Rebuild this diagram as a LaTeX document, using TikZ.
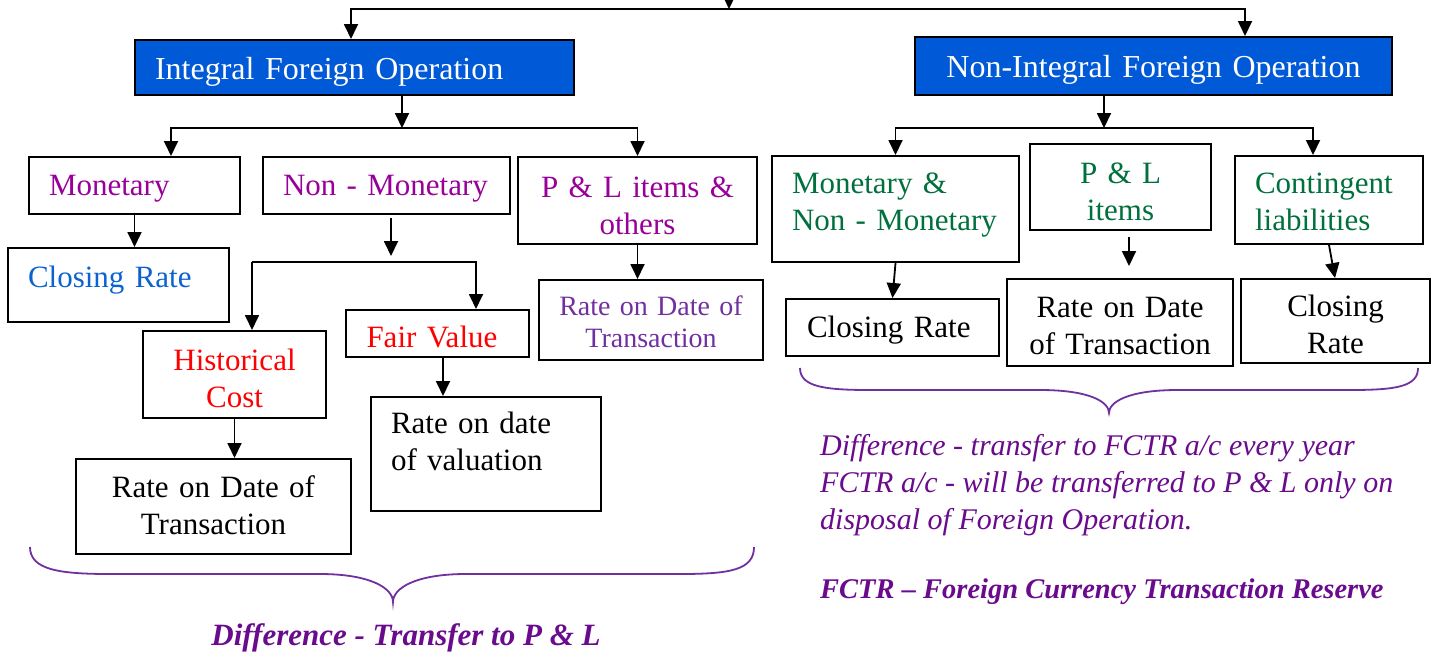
\documentclass[tikz,border=0pt]{standalone}
\usepackage{fontspec}
\setmainfont{Liberation Serif}
\usetikzlibrary{calc,positioning,arrows.meta}

\definecolor{opblue}{HTML}{0059D6}
\definecolor{monpurple}{HTML}{990099}
\definecolor{ratepurple}{HTML}{7030A0}
\definecolor{notepurple}{HTML}{6A0A8C}
\definecolor{closeblue}{HTML}{0B63D0}
\definecolor{fairred}{HTML}{FF0000}
\definecolor{nigreen}{HTML}{00703C}

\newcommand{\topfont}{\fontsize{32}{37}\selectfont}
\newcommand{\boxfont}{\fontsize{31}{37}\selectfont}
\newcommand{\smallboxfont}{\fontsize{28}{32}\selectfont}
\newcommand{\notefont}{\fontsize{30}{37}\selectfont\itshape}

\begin{document}
\begin{tikzpicture}[
  x=1pt, y=-1pt,
  box/.style={draw, rectangle, line width=2pt, inner ysep=0pt, font=\boxfont},
  lbox/.style={box, align=left, inner xsep=20pt, text width=#1},
  cbox/.style={box, align=center, inner xsep=4pt, text width=#1},
  arr/.style={line width=1.8pt, -{Triangle[length=15pt,width=14pt]}},
  brace/.style={draw=ratepurple, line width=1.8pt},
  ]
  \useasboundingbox (0,0) rectangle (1439,653);

  % top level
  \node (integral) [lbox=399pt, fill=opblue, text=white, font=\topfont, minimum height=55pt, text height=31.5pt, text depth=8.5pt] at (354.5,67.5) {Integral Foreign Operation};
  \node (nonintegral) [cbox=469pt, fill=opblue, text=white, font=\topfont, minimum height=58pt, text height=31pt, text depth=9pt] at (1153.5,66) {Non-Integral Foreign Operation};

  \coordinate (topin) at (729,0);
  \coordinate (split) at (729,9);
  \draw[arr] (topin) -- (split);
  \draw[arr] (split) -| ([xshift=-3.5pt]integral.north);
  \draw[arr] (split) -| ([xshift=91.5pt]nonintegral.north);

  % integral side
  \node (monetary) [lbox=171pt, text=monpurple, minimum height=57pt, text height=29.5pt, text depth=10.5pt] at (134.5,185.5) {Monetary};
  \node (nonmonetary) [lbox=207pt, text=monpurple, minimum height=57pt, text height=29.5pt, text depth=10.5pt] at (386.5,185.5) {Non - Monetary};
  \node (plothers) [cbox=231pt, text=monpurple, minimum height=87pt, text height=26.5pt, text depth=33.5pt] at (637.5,200.5) {P \& L items \&\\ others};

  \coordinate (lsplit) at (402,128);
  \draw[arr] ([xshift=47.5pt]integral.south) -- (lsplit);
  \draw[arr] (lsplit) -| ([xshift=36.5pt]monetary.north);
  \draw[arr] (lsplit) -| (plothers.north);

  \node (closingL) [lbox=181pt, text=closeblue, minimum height=74pt, text height=32pt, text depth=28pt] at (118.5,285) {Closing Rate};
  \draw[arr] (monetary.south) -- (monetary.south |- closingL.north);

  \coordinate (nm_top) at (391,218);
  \coordinate (nm_end) at (391,256);
  \draw[arr] (nm_top) -- (nm_end);
  \coordinate (hl_left) at (252,262);
  \coordinate (hl_right) at (476,262);

  \node (historical) [cbox=175pt, text=fairred, minimum height=87pt, text height=25.5pt, text depth=34.5pt] at (234.5,374.5) {Historical\\ Cost};
  \node (fairvalue) [lbox=141pt, inner xsep=21pt, text=fairred, minimum height=47pt, text height=33.5pt, text depth=6.5pt] at (437,333.5) {Fair Value};
  \draw[arr] (hl_left) -- (hl_left |- historical.north);
  \draw[arr] (hl_left) -- (hl_right) -- (hl_right |- fairvalue.north);

  \node (rateL) [cbox=267pt, minimum height=95pt, text height=20.5pt, text depth=39.5pt] at (213.5,506.5) {Rate on Date of\\ Transaction};
  \node (valuation) [lbox=190pt, minimum height=114pt, text height=9pt, text depth=51pt] at (486,454) {Rate on date\\ of valuation};
  \node (plrate) [cbox=216pt, text=ratepurple, font=\smallboxfont, minimum height=80pt, text height=25pt, text depth=35pt] at (651,320) {Rate on Date of\\ Transaction};
  \draw[arr] (historical.south) -- (historical.south |- rateL.north);
  \draw[arr] ([xshift=6pt]fairvalue.south) -- ([xshift=6pt]fairvalue.south |- valuation.north);
  \draw[arr] (plothers.south) -- (plothers.south |- plrate.north);

  % non-integral side
  \node (monnon) [lbox=207pt, text=nigreen, minimum height=106pt, text height=14pt, text depth=46pt] at (895.5,209) {Monetary \&\\ Non - Monetary};
  \node (plitems) [cbox=173pt, text=nigreen, minimum height=86pt, text height=26pt, text depth=34pt] at (1120.5,187) {P \& L\\ items};
  \node (contingent) [lbox=148pt, text=nigreen, minimum height=88pt, text height=23pt, text depth=37pt] at (1329,200) {Contingent\\ liabilities};

  \coordinate (rsplit) at (1104,128);
  \draw[arr] ([xshift=-49.5pt]nonintegral.south) -- (rsplit);
  \draw[arr] (rsplit) -| (monnon.north);
  \draw[arr] (rsplit) -| ([xshift=-16pt]contingent.north);

  \node (closingR) [lbox=171pt, inner xsep=21pt, minimum height=57pt, text height=29.5pt, text depth=10.5pt] at (892.5,327.5) {Closing Rate};
  \node (rateR) [cbox=218pt, minimum height=87pt, text height=24.5pt, text depth=35.5pt] at (1120,322.5) {Rate on Date\\ of Transaction};
  \node (closingR2) [cbox=181pt, minimum height=84pt, text height=25pt, text depth=35pt] at (1335.5,321) {Closing\\ Rate};
  \draw[arr] (monnon.south) -- (closingR.north);
  \draw[arr] ([xshift=8.5pt,yshift=-6pt]plitems.south) -- ([xshift=9pt,yshift=12pt]rateR.north);
  \draw[arr] (contingent.south) -- ([xshift=-0.5pt]closingR2.north);

  % braces
  \coordinate (braceL_a) at (30,547);
  \coordinate (braceL_tip) at (393,602);
  \coordinate (braceL_b) at (754,547);
  \draw[brace] (braceL_a) .. controls (30,570) and (60,574) .. (110,574) -- (320,574)
    .. controls (370,574) and (393,588) .. (braceL_tip)
    .. controls (393,588) and (416,574) .. (466,574) -- (680,574)
    .. controls (730,574) and (754,570) .. (braceL_b);

  \coordinate (braceR_a) at (800,368);
  \coordinate (braceR_tip) at (1109,413);
  \coordinate (braceR_b) at (1418,368);
  \draw[brace] (braceR_a) .. controls (800,387) and (825,390) .. (870,390) -- (1040,390)
    .. controls (1090,390) and (1109,402) .. (braceR_tip)
    .. controls (1109,402) and (1128,390) .. (1178,390) -- (1350,390)
    .. controls (1395,390) and (1418,387) .. (braceR_b);

  % notes
  \node (diffPL) [anchor=base, text=notepurple, font=\fontsize{31}{37}\selectfont\itshape\bfseries, inner sep=0pt] at (406,645) {Difference - Transfer to P \& L};
  \node (fctrnote) [anchor=north west, align=left, text=notepurple, font=\notefont, inner sep=0pt] at (820,434) {Difference - transfer to FCTR a/c every year\\ FCTR a/c - will be transferred to P \& L only on\\ disposal of Foreign Operation.};
  \node (fctrdef) [anchor=base west, text=notepurple, font=\fontsize{28.5}{37}\selectfont\itshape\bfseries, inner sep=0pt] at (820,598) {FCTR – Foreign Currency Transaction Reserve};
\end{tikzpicture}
\end{document}
